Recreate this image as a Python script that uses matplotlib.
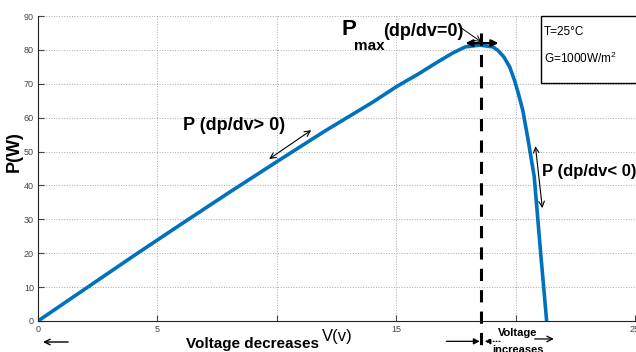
import numpy as np
import matplotlib
matplotlib.use('Agg')
import matplotlib.pyplot as plt
from matplotlib.patches import Rectangle

# P-V curve
volts = [0, 2, 4, 6, 8, 10, 12, 14, 15, 16, 16.75, 17.4, 17.9, 18.5, 19.04, 19.25, 19.5,
         19.75, 19.95, 20.1, 20.3, 20.5, 20.78, 21.05, 21.3]
power = [0, 9.6, 19.2, 28.6, 37.9, 47, 56, 64.5, 69.1, 73.2, 76.5, 79.2, 80.9, 81.4, 80.9, 79.9, 78,
         75, 71.1, 67.5, 62.2, 54.4, 42.6, 20, 0]
v_mpp = 18.55

xticks = [0, 5, 10, 15, 20, 25]
xtick_labels = ['0', '5', '', '15', '', '25']
yticks = [0, 10, 20, 30, 40, 50, 60, 70, 80, 90]

plt.rcParams['font.family'] = ['Liberation Sans', 'DejaVu Sans']
plt.rcParams['mathtext.fontset'] = 'custom'
plt.rcParams['mathtext.rm'] = 'Liberation Sans'
plt.rcParams['mathtext.it'] = 'Liberation Sans'

fig = plt.figure(figsize=(6.36, 3.52), dpi=100)
ax = fig.add_axes([38/636, 31/352, 597/636, 305/352])

ax.plot(volts, power, color='#0072BD', lw=2.6, solid_capstyle='butt')
ax.plot([v_mpp, v_mpp], [85, -10], color='black', lw=2.2, ls=(0, (4, 3)), clip_on=False)

ax.set_xlim(0, 25)
ax.set_ylim(0, 90)
ax.set_xticks(xticks)
ax.set_xticklabels(xtick_labels)
ax.set_yticks(yticks)
ax.tick_params(direction='in', length=4, labelsize=6.5, colors='#444444', pad=3)
ax.grid(True, ls=':', color='#aaaaaa', lw=0.7)
ax.spines['top'].set_visible(False)
ax.spines['right'].set_visible(False)
ax.spines['left'].set_color('#222222')
ax.spines['bottom'].set_color('#222222')

fig.text(14/636, 1 - 152/352, 'P(W)', rotation=90, fontsize=13, fontweight='bold',
         ha='center', va='center')

arrow2 = dict(arrowstyle='<->', color='black', lw=0.8, shrinkA=0, shrinkB=0)

# dp/dv > 0
ax.text(8.2, 57.8, 'P (dp/dv> 0)', fontsize=13, fontweight='bold', ha='center', va='center')
ax.annotate('', xy=(9.68, 47.8), xytext=(11.44, 56.3), arrowprops=arrow2)

# Pmax
ax.text(12.7, 84.4, 'P', fontsize=16, fontweight='bold', ha='left', va='baseline')
ax.text(13.25, 79.9, 'max', fontsize=11, fontweight='bold', ha='left', va='baseline')
ax.text(14.45, 84.1, '(dp/dv=0)', fontsize=13, fontweight='bold', ha='left', va='baseline')
ax.annotate('', xy=(18.57, 82.3), xytext=(17.74, 86.4),
            arrowprops=dict(arrowstyle='->', color='black', lw=0.7, shrinkA=0, shrinkB=0),
            annotation_clip=False)
ax.annotate('', xy=(17.9, 82.0), xytext=(19.28, 82.0),
            arrowprops=dict(arrowstyle='<|-|>', color='black', lw=1.6, shrinkA=0, shrinkB=0,
                            mutation_scale=10))

# conditions box
ax.add_patch(Rectangle((21.05, 70.2), 4.2, 19.8, facecolor='white', edgecolor='black',
                       lw=1.0, clip_on=False, zorder=5))
ax.text(21.2, 85.2, 'T=25°C', fontsize=8.5, ha='left', va='center', zorder=6)
ax.text(21.2, 77.6, 'G=1000W/m$^{2}$', fontsize=8.5, ha='left', va='center', zorder=6)

# dp/dv < 0
ax.text(21.1, 44, 'P (dp/dv< 0)', fontsize=12, fontweight='bold', ha='left', va='center',
        clip_on=False)
ax.annotate('', xy=(20.83, 51.6), xytext=(21.12, 33.3), arrowprops=arrow2)

# below the axis
ax.text(9.0, -6.8, 'Voltage decreases', fontsize=11, fontweight='bold', ha='center',
        va='center', clip_on=False)
ax.text(12.55, -4.6, 'V(v)', fontsize=12, ha='center', va='center', clip_on=False)
ax.annotate('', xy=(0.21, -6.2), xytext=(1.26, -6.2),
            arrowprops=dict(arrowstyle='->', color='black', lw=1.0, shrinkA=0, shrinkB=0),
            annotation_clip=False)
ax.annotate('', xy=(18.5, -6.0), xytext=(17.1, -6.0),
            arrowprops=dict(arrowstyle='-|>', color='black', lw=0.9, shrinkA=0, shrinkB=0,
                            mutation_scale=9),
            annotation_clip=False)
ax.annotate('', xy=(18.7, -6.0), xytext=(19.35, -6.0),
            arrowprops=dict(arrowstyle='-|>', color='black', lw=0.8, ls=':', shrinkA=0,
                            shrinkB=0, mutation_scale=9),
            annotation_clip=False)
ax.text(20.1, -3.6, 'Voltage', fontsize=8, fontweight='bold', ha='center', va='center',
        clip_on=False)
ax.text(20.1, -8.6, 'increases', fontsize=8, fontweight='bold', ha='center', va='center',
        clip_on=False)
ax.annotate('', xy=(21.6, -5.3), xytext=(20.8, -5.3),
            arrowprops=dict(arrowstyle='->', color='black', lw=0.9, shrinkA=0, shrinkB=0),
            annotation_clip=False)

fig.savefig('out.png', dpi=100)
